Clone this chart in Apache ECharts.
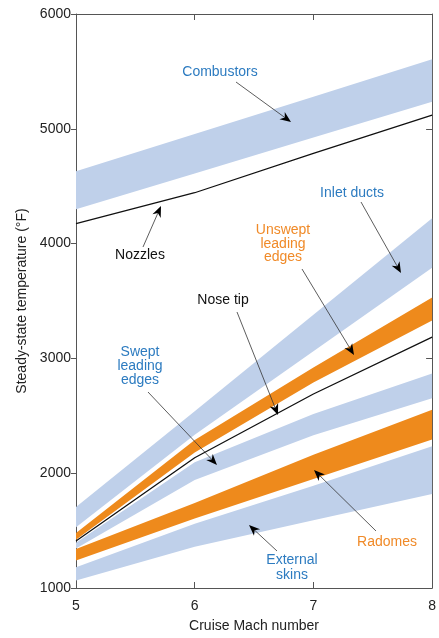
<!DOCTYPE html>
<html>
<head>
<meta charset="utf-8">
<script src="https://cdn.jsdelivr.net/npm/echarts@6/dist/echarts.min.js"></script>
<style>
  html, body { margin: 0; padding: 0; background: #fff; }
  #chart { width: 439px; height: 638px; }
</style>
</head>
<body>
<div id="chart"></div>
<script>
// cruise Mach number
var mach = [5, 6, 7, 8];

// temperature bands (deg F), low / high edge
var combustorsLow  = [4300, 4610, 4925, 5235];
var combustorsHigh = [4630, 4955, 5280, 5605];
var inletLow       = [1530, 2336, 3063, 3790];
var inletHigh      = [1705, 2540, 3380, 4220];
var unsweptLow     = [1420, 2180, 2790, 3330];
var unsweptHigh    = [1480, 2290, 2920, 3530];
var sweptLow       = [1345, 1940, 2330, 2652];
var sweptHigh      = [1395, 2095, 2515, 2868];
var radomesLow     = [1240, 1605, 1950, 2293];
var radomesHigh    = [1340, 1740, 2160, 2552];
var skinsLow       = [1065, 1360, 1590, 1818];
var skinsHigh      = [1180, 1560, 1890, 2235];

// single lines
var nozzles = [4175, 4443, 4785, 5120];
var noseTip = [1410, 2135, 2690, 3185];

var yTicks = [1000, 2000, 3000, 4000, 5000, 6000];

var BLUE = '#bfd0ea';
var ORANGE = '#ee8a1c';
var TXT_BLUE = '#2c7bc0';
var TXT_ORANGE = '#f08a28';
var FONT = '"Liberation Sans", Arial, sans-serif';

function band(name, low, high, color) {
    var rows = mach.map(function (m, i) { return [m, low[i], high[i]]; });
    return {
        name: name,
        type: 'custom',
        clip: true,
        z: 1,
        data: rows,
        encode: { x: 0, y: [1, 2] },
        renderItem: function (params, api) {
            if (params.dataIndex !== 0) return;
            var pts = [];
            for (var i = 0; i < rows.length; i++) pts.push(api.coord([rows[i][0], rows[i][2]]));
            for (var j = rows.length - 1; j >= 0; j--) pts.push(api.coord([rows[j][0], rows[j][1]]));
            return { type: 'polygon', shape: { points: pts }, style: { fill: color } };
        }
    };
}

function line(name, vals) {
    return {
        name: name,
        type: 'line',
        z: 3,
        symbol: 'none',
        data: mach.map(function (m, i) { return [m, vals[i]]; }),
        lineStyle: { color: '#111', width: 1.3 }
    };
}

// annotation arrows, pixel positions [x1, y1, x2(head), y2(head)]
var arrows = [
    [236, 82, 291, 122],
    [143, 247, 161, 206],
    [361, 202, 401, 273],
    [302, 269, 354, 355],
    [237, 312, 278, 415],
    [148, 392, 217, 465],
    [376, 531, 314, 470],
    [277, 551, 249, 525]
];

var labels = [
    { text: 'Combustors', x: 220, y: 72, color: TXT_BLUE, lh: 14 },
    { text: 'Nozzles', x: 140, y: 255, color: '#111', lh: 14 },
    { text: 'Inlet ducts', x: 352, y: 193, color: TXT_BLUE, lh: 14 },
    { text: 'Unswept\nleading\nedges', x: 283, y: 244, color: TXT_ORANGE, lh: 13.5 },
    { text: 'Nose tip', x: 223, y: 300, color: '#111', lh: 14 },
    { text: 'Swept\nleading\nedges', x: 140, y: 366, color: TXT_BLUE, lh: 14 },
    { text: 'Radomes', x: 387, y: 542, color: TXT_ORANGE, lh: 14 },
    { text: 'External\nskins', x: 292, y: 567.5, color: TXT_BLUE, lh: 15 }
];

function arrowGraphic(a) {
    var x1 = a[0], y1 = a[1], x2 = a[2], y2 = a[3];
    var dx = x2 - x1, dy = y2 - y1;
    var len = Math.sqrt(dx * dx + dy * dy);
    var ux = dx / len, uy = dy / len;
    var hl = 11, hw = 4.5;
    var bx = x2 - ux * hl, by = y2 - uy * hl;
    var nx = x2 - ux * hl * 0.7, ny = y2 - uy * hl * 0.7;
    return [
        { type: 'line', z: 10, shape: { x1: x1, y1: y1, x2: nx, y2: ny }, style: { stroke: '#333', lineWidth: 0.8 } },
        { type: 'polygon', z: 10, shape: { points: [[x2, y2], [bx - uy * hw, by + ux * hw], [nx, ny], [bx + uy * hw, by - ux * hw]] }, style: { fill: '#000' } }
    ];
}

var graphics = [];
arrows.forEach(function (a) { graphics = graphics.concat(arrowGraphic(a)); });
labels.forEach(function (l) {
    graphics.push({
        type: 'text', z: 11, x: l.x, y: l.y,
        style: { text: l.text, fill: l.color, font: '14px ' + FONT, align: 'center', verticalAlign: 'middle', lineHeight: l.lh }
    });
});

var axisLineStyle = { lineStyle: { color: '#555', width: 1 } };

var dom = document.getElementById('chart');
var myChart = echarts.init(dom, null, { renderer: 'canvas' });

var option = {
    animation: false,
    backgroundColor: '#fff',
    grid: { left: 76, right: 6, top: 14, bottom: 45 },
    xAxis: [
        {
            type: 'value', min: 5, max: 8, interval: 1, position: 'bottom',
            name: 'Cruise Mach number', nameLocation: 'middle', nameGap: 31,
            nameTextStyle: { color: '#222', fontSize: 14, fontFamily: FONT },
            axisLine: axisLineStyle,
            axisTick: { inside: true, length: 6, lineStyle: { color: '#555' } },
            axisLabel: { color: '#222', fontSize: 14, fontFamily: FONT, margin: 11 },
            splitLine: { show: false }
        },
        {
            type: 'value', min: 5, max: 8, interval: 1, position: 'top',
            axisLine: axisLineStyle,
            axisTick: { inside: true, length: 6, lineStyle: { color: '#555' } },
            axisLabel: { show: false },
            splitLine: { show: false }
        }
    ],
    yAxis: [
        {
            type: 'value', min: yTicks[0], max: yTicks[yTicks.length - 1], interval: 1000, position: 'left',
            name: 'Steady-state temperature (\u00b0F)', nameLocation: 'middle', nameGap: 44,
            nameTextStyle: { color: '#222', fontSize: 14, fontFamily: FONT },
            axisLine: axisLineStyle,
            axisTick: { inside: false, length: 5, lineStyle: { color: '#555' } },
            axisLabel: { color: '#222', fontSize: 14, fontFamily: FONT, margin: 5, formatter: function (v) { return String(v); } },
            splitLine: { show: false }
        },
        {
            type: 'value', min: yTicks[0], max: yTicks[yTicks.length - 1], interval: 1000, position: 'right',
            axisLine: axisLineStyle,
            axisTick: { inside: true, length: 6, lineStyle: { color: '#555' } },
            axisLabel: { show: false },
            splitLine: { show: false }
        }
    ],
    series: [
        band('Combustors', combustorsLow, combustorsHigh, BLUE),
        band('Inlet ducts', inletLow, inletHigh, BLUE),
        band('Unswept leading edges', unsweptLow, unsweptHigh, ORANGE),
        band('Swept leading edges', sweptLow, sweptHigh, BLUE),
        band('Radomes', radomesLow, radomesHigh, ORANGE),
        band('External skins', skinsLow, skinsHigh, BLUE),
        line('Nozzles', nozzles),
        line('Nose tip', noseTip)
    ],
    graphic: graphics
};

myChart.setOption(option);
window.addEventListener('resize', myChart.resize);
</script>
</body>
</html>
